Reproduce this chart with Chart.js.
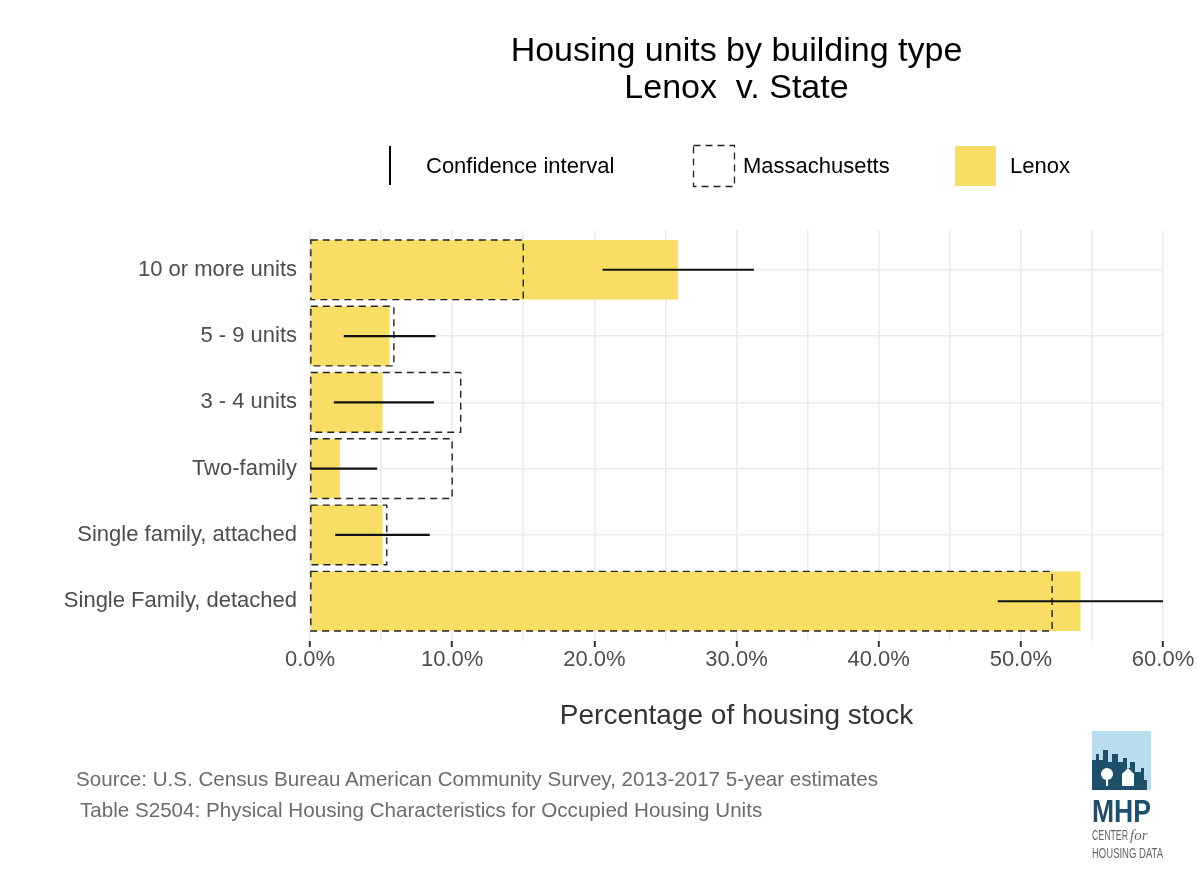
<!DOCTYPE html>
<html>
<head>
<meta charset="utf-8">
<script src="https://cdn.jsdelivr.net/npm/chart.js@4/dist/chart.umd.min.js"></script>
<style>
  body { margin: 0; background: #fff; }
  #wrap { position: relative; width: 1200px; height: 877px; font-family: 'Liberation Sans', Helvetica, Arial, sans-serif; }
  #chart { position: absolute; left: 0; top: 0; }
  .abs { position: absolute; white-space: nowrap; }
  .title { left: 310px; width: 853px; top: 31px; text-align: center; font-size: 34px; line-height: 37px; color: #000; }
  .leg { font-size: 22px; line-height: 26px; top: 153px; color: #000; }
  .xtitle { left: 310px; width: 853px; top: 699px; text-align: center; font-size: 28px; line-height: 32px; color: #333; }
  .src { font-size: 20.6px; line-height: 24px; color: #6b6b6b; }
</style>
</head>
<body>
<div id="wrap">
  <canvas id="chart" width="1200" height="877"></canvas>

  <div class="abs title">Housing units by building type<br>Lenox&nbsp; v. State</div>

  <!-- legenda -->
  <div class="abs" style="left:389px; top:146px; width:1.5px; height:39px; background:#000;"></div>
  <div class="abs leg" style="left:426px;">Confidence interval</div>
  <svg class="abs" style="left:692px; top:144px;" width="45" height="45">
    <rect x="1.5" y="1.5" width="41" height="41" fill="none" stroke="#222" stroke-width="1.3" stroke-dasharray="7 5"/>
  </svg>
  <div class="abs leg" style="left:743px;">Massachusetts</div>
  <div class="abs" style="left:955px; top:146px; width:41px; height:40px; background:#f9de66;"></div>
  <div class="abs leg" style="left:1010px;">Lenox</div>

  <div class="abs xtitle">Percentage of housing stock</div>

  <div class="abs src" style="left:76px; top:767px;">Source: U.S. Census Bureau American Community Survey, 2013-2017 5-year estimates</div>
  <div class="abs src" style="left:80px; top:798px;">Table S2504: Physical Housing Characteristics for Occupied Housing Units</div>

  <!-- logo -->
  <svg class="abs" style="left:1090px; top:730px;" width="80" height="145">
    <rect x="2" y="1" width="59" height="59" fill="#b9dcef"/>
    <path d="M2 60 V30 h4 v-6 h3 v6 h4 v-10 h5 v12 h4 v-8 h6 v8 h5 v-4 h4 v10 h3 v-6 h5 v10 h6 v-4 h3 v12 h3 V60 Z" fill="#1d4f6b"/>
    <circle cx="17" cy="44" r="6" fill="#fff"/>
    <rect x="16" y="46" width="2" height="10" fill="#fff"/>
    <path d="M32 56 V44 l6 -6 l6 6 V56 Z" fill="#fff"/>
    <text x="2" y="92" font-family="Liberation Sans, Arial" font-weight="bold" font-size="32" fill="#1d4f6b" textLength="59" lengthAdjust="spacingAndGlyphs">MHP</text>
    <text x="2" y="110" font-family="Liberation Sans, Arial" font-size="14" fill="#666" textLength="36" lengthAdjust="spacingAndGlyphs">CENTER</text>
    <text x="40" y="110" font-family="Liberation Serif, serif" font-style="italic" font-size="15" fill="#666">for</text>
    <text x="2" y="128" font-family="Liberation Sans, Arial" font-size="14" fill="#666" textLength="71" lengthAdjust="spacingAndGlyphs">HOUSING DATA</text>
  </svg>
</div>

<script>
// categorias de cima para baixo
const categories = ['10 or more units', '5 - 9 units', '3 - 4 units', 'Two-family', 'Single family, attached', 'Single Family, detached'];
const lenoxValues = [25.9, 5.6, 5.1, 2.1, 5.1, 54.2];
const stateValues = [15.0, 5.9, 10.6, 10.0, 5.4, 52.2];
const ciLow = [20.6, 2.4, 1.7, 0.0, 1.8, 48.4];
const ciHigh = [31.2, 8.8, 8.7, 4.7, 8.4, 60.0];
const xTicks = [0, 10, 20, 30, 40, 50, 60];

const GRID = '#ebebeb';
const FONT = "'Liberation Sans', Helvetica, Arial";

// contorno tracejado para a barra do estado
const dashedOutline = {
    id: 'dashedOutline',
    afterDatasetDraw(chart, args) {
        const ds = chart.data.datasets[args.index];
        if (!ds.dashed) return;
        const ctx = chart.ctx;
        ctx.save();
        ctx.strokeStyle = '#222';
        ctx.lineWidth = 1.4;
        ctx.setLineDash([7, 5]);
        args.meta.data.forEach(el => {
            const p = el.getProps(['x', 'y', 'base', 'height'], true);
            ctx.strokeRect(p.base, p.y - p.height / 2, p.x - p.base, p.height);
        });
        ctx.restore();
    }
};

new Chart(document.getElementById('chart'), {
    type: 'bar',
    data: {
        datasets: [
            {
                label: 'Confidence interval',
                data: categories.map((c, i) => ({ y: i, x: [ciLow[i], ciHigh[i]] })),
                backgroundColor: '#111',
                barThickness: 1.5,
                grouped: false,
                order: 0
            },
            {
                label: 'Massachusetts',
                data: categories.map((c, i) => ({ y: i, x: stateValues[i] })),
                backgroundColor: 'rgba(0,0,0,0)',
                borderWidth: 0,
                dashed: true,
                categoryPercentage: 0.9,
                barPercentage: 1,
                grouped: false,
                order: 1
            },
            {
                label: 'Lenox',
                data: categories.map((c, i) => ({ y: i, x: lenoxValues[i] })),
                backgroundColor: '#f9de66',
                borderWidth: 0,
                categoryPercentage: 0.9,
                barPercentage: 1,
                grouped: false,
                order: 2
            }
        ]
    },
    options: {
        indexAxis: 'y',
        responsive: false,
        animation: false,
        devicePixelRatio: 1,
        layout: { padding: { top: 230, right: 37, bottom: 200, left: 0 } },
        plugins: { legend: { display: false }, tooltip: { enabled: false } },
        scales: {
            x: {
                type: 'linear',
                min: 0,
                max: 60,
                afterFit: s => { s.height = 36; },
                ticks: {
                    stepSize: 5,
                    autoSkip: false,
                    maxRotation: 0,
                    padding: 0,
                    color: '#4d4d4d',
                    font: { family: FONT, size: 22 },
                    callback: v => (xTicks.includes(v) ? v.toFixed(1) + '%' : '')
                },
                grid: {
                    color: GRID,
                    lineWidth: 1.6,
                    tickLength: 6,
                    tickWidth: 2,
                    tickColor: c => (c.tick && xTicks.includes(c.tick.value) ? '#333' : 'rgba(0,0,0,0)')
                },
                border: { display: false }
            },
            y: {
                type: 'linear',
                reverse: true,
                offset: false,
                min: -0.6,
                max: 5.6,
                afterFit: s => { s.width = 310; },
                afterBuildTicks: s => { s.ticks = categories.map((c, i) => ({ value: i })); },
                ticks: {
                    padding: 13,
                    color: '#4d4d4d',
                    font: { family: FONT, size: 22 },
                    callback: v => categories[v]
                },
                grid: { color: GRID, lineWidth: 1.6, drawTicks: false, offset: false },
                border: { display: false }
            }
        }
    },
    plugins: [dashedOutline]
});
</script>
</body>
</html>
